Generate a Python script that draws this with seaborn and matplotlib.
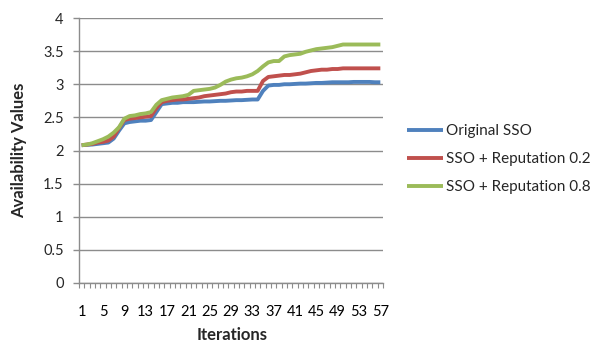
import matplotlib
matplotlib.use("Agg")
import matplotlib.pyplot as plt
from matplotlib.ticker import FixedLocator
import numpy as np
import pandas as pd
import seaborn as sns

# Iteration index (x categories)
iterations = list(range(1, 58))

# Availability values per series
original_sso = [
    2.08, 2.085, 2.09, 2.10, 2.11, 2.12, 2.18, 2.30, 2.41, 2.43,
    2.44, 2.45, 2.45, 2.46, 2.58, 2.70, 2.71, 2.72, 2.72, 2.73,
    2.73, 2.73, 2.735, 2.74, 2.74, 2.745, 2.75, 2.75, 2.755, 2.76,
    2.76, 2.765, 2.77, 2.77, 2.90, 2.98, 2.99, 2.99, 3.00, 3.00,
    3.005, 3.01, 3.01, 3.015, 3.02, 3.02, 3.025, 3.03, 3.03, 3.03,
    3.03, 3.035, 3.035, 3.035, 3.035, 3.03, 3.03,
]
sso_reputation_02 = [
    2.08, 2.09, 2.10, 2.12, 2.13, 2.15, 2.21, 2.34, 2.46, 2.48,
    2.49, 2.50, 2.51, 2.52, 2.64, 2.73, 2.75, 2.76, 2.77, 2.77,
    2.78, 2.79, 2.80, 2.82, 2.83, 2.84, 2.85, 2.86, 2.88, 2.89,
    2.89, 2.90, 2.90, 2.90, 3.05, 3.11, 3.12, 3.13, 3.14, 3.14,
    3.15, 3.16, 3.18, 3.20, 3.21, 3.22, 3.22, 3.23, 3.23, 3.24,
    3.24, 3.24, 3.24, 3.24, 3.24, 3.24, 3.24,
]
sso_reputation_08 = [
    2.08, 2.09, 2.11, 2.14, 2.17, 2.21, 2.27, 2.35, 2.48, 2.52,
    2.53, 2.55, 2.56, 2.58, 2.69, 2.76, 2.78, 2.80, 2.81, 2.82,
    2.84, 2.90, 2.91, 2.92, 2.93, 2.95, 2.99, 3.04, 3.07, 3.09,
    3.10, 3.12, 3.15, 3.20, 3.27, 3.33, 3.35, 3.35, 3.42, 3.44,
    3.45, 3.46, 3.49, 3.51, 3.53, 3.54, 3.55, 3.56, 3.58, 3.60,
    3.60, 3.60, 3.60, 3.60, 3.60, 3.60, 3.60,
]

series_names = ["Original SSO", "SSO + Reputation 0.2", "SSO + Reputation 0.8"]
series_colors = ["#4F81BD", "#C0504D", "#9BBB59"]
x_tick_labels = list(range(1, 58, 4))
y_ticks = [0, 0.5, 1, 1.5, 2, 2.5, 3, 3.5, 4]

df = pd.DataFrame({
    "Iteration": iterations,
    series_names[0]: original_sso,
    series_names[1]: sso_reputation_02,
    series_names[2]: sso_reputation_08,
}).melt(id_vars="Iteration", var_name="Series", value_name="Value")

sns.set_style("white")
plt.rcParams["font.family"] = ["Lato", "DejaVu Sans"]

fig = plt.figure(figsize=(6, 3.42), dpi=100)
ax = fig.add_axes([79 / 600, 1 - 283 / 342, 304 / 600, 265 / 342])

sns.lineplot(data=df, x="Iteration", y="Value", hue="Series",
             hue_order=series_names, palette=series_colors,
             linewidth=2.8, ax=ax, legend=True)
for line in ax.lines:
    line.set_solid_capstyle("butt")
    line.set_solid_joinstyle("round")

ax.set_xlim(0.5, 57.5)
ax.set_ylim(0, 4)

grid_c = "#8C8C8C"
ax.set_yticks(y_ticks)
ax.set_yticklabels([f"{v:g}" for v in y_ticks])
ax.yaxis.grid(True, color=grid_c, linewidth=1.0)
ax.xaxis.grid(False)
ax.set_axisbelow(True)

ax.xaxis.set_major_locator(FixedLocator(x_tick_labels))
ax.set_xticklabels([str(v) for v in x_tick_labels])
ax.xaxis.set_minor_locator(FixedLocator(np.arange(0.5, 58, 1.0)))

ax.tick_params(axis="x", which="major", length=0, pad=16, labelsize=10.5,
               colors="black")
ax.tick_params(axis="x", which="minor", length=3.5, width=0.8,
               color=grid_c, direction="out", bottom=True)
ax.tick_params(axis="y", which="major", length=4, width=1.0, color=grid_c,
               direction="out", pad=7, labelsize=10.5, left=True)

for side in ["top", "right"]:
    ax.spines[side].set_visible(False)
for side in ["left", "bottom"]:
    ax.spines[side].set_color(grid_c)
    ax.spines[side].set_linewidth(1.0)

ax.set_xlabel("Iterations", fontsize=12, fontweight="bold")
ax.set_ylabel("Availability Values", fontsize=12, fontweight="bold")
ax.xaxis.set_label_coords(0.503, -0.165)
ax.yaxis.set_label_coords(-0.172, 0.5)

handles, labels = ax.get_legend_handles_labels()
ax.get_legend().remove()
fig.legend(handles, labels, loc="center left",
           bbox_to_anchor=(393 / 600, 1 - 159 / 342), frameon=False,
           fontsize=11, handlelength=2.4, handletextpad=0.16,
           labelspacing=0.92)

fig.savefig("out.png", dpi=100)
